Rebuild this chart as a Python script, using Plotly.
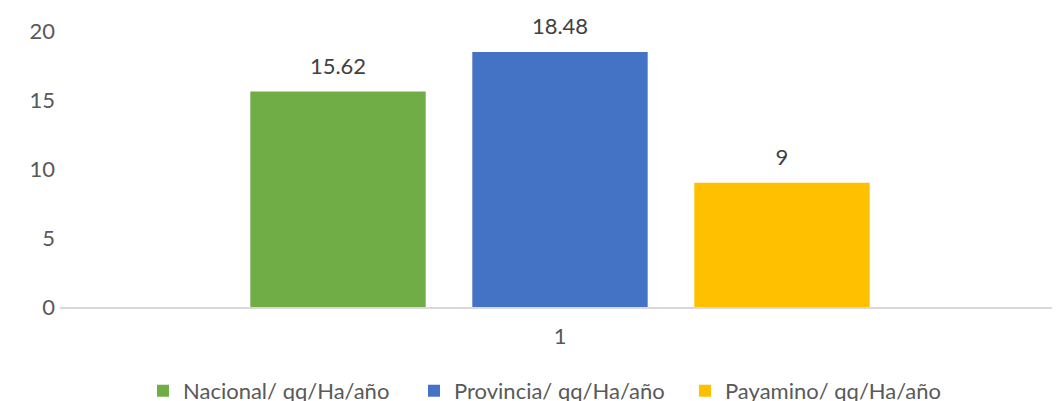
import plotly.graph_objects as go

categories = ["1"]
series_names = ["Nacional/ qq/Ha/año", "Provincia/ qq/Ha/año", "Payamino/ qq/Ha/año"]
nacional = [15.62]
provincia = [18.48]
payamino = [9]
y_ticks = [0, 5, 10, 15, 20]

colors = ["#70AD47", "#4472C4", "#FFC000"]
FONT = "Lato"
FS = 22

fig = go.Figure()
for i, (name, vals, col) in enumerate(zip(series_names, [nacional, provincia, payamino], colors)):
    fig.add_trace(go.Bar(
        x=categories, y=vals, name=name, marker_color=col,
        marker_line_width=0, offsetgroup=str(i),
    ))
for i, (name, vals) in enumerate(zip(series_names, [nacional, provincia, payamino])):
    fig.add_trace(go.Scatter(
        x=categories, y=vals, mode="markers+text", text=[f"{v:g}" for v in vals],
        textposition="top center", offsetgroup=str(i), showlegend=False,
        marker=dict(size=18, opacity=0), cliponaxis=False, hoverinfo="skip",
        textfont=dict(family=FONT, size=FS, color="#404040"),
    ))

# page body has an 8px margin, so the figure is laid out in its own coordinates
fig.update_layout(
    width=1060, height=401,
    margin=dict(l=52, r=8, t=23, b=102, autoexpand=False),
    paper_bgcolor="white", plot_bgcolor="white",
    barmode="group", bargap=0.334, bargroupgap=0.21,
    scattermode="group", scattergap=0.334,
    font=dict(family=FONT, size=FS, color="#595959"),
    showlegend=True,
    legend=dict(orientation="h", x=0.083, xanchor="left", y=-0.228, yanchor="top",
                font=dict(family=FONT, size=FS, color="#595959"),
                entrywidth=226, itemclick=False),
)
fig.update_xaxes(type="category", showline=True, linecolor="#d9d9d9", linewidth=1.5,
                 showgrid=False, ticks="", ticklabelstandoff=9, automargin=False,
                 tickfont=dict(family=FONT, size=FS, color="#595959"))
fig.update_yaxes(range=[0, 20], tickvals=y_ticks, showgrid=False, zeroline=False,
                 showline=False, ticks="", ticklabelstandoff=4, automargin=False,
                 tickfont=dict(family=FONT, size=FS, color="#595959"))

fig.write_html("out.html")
